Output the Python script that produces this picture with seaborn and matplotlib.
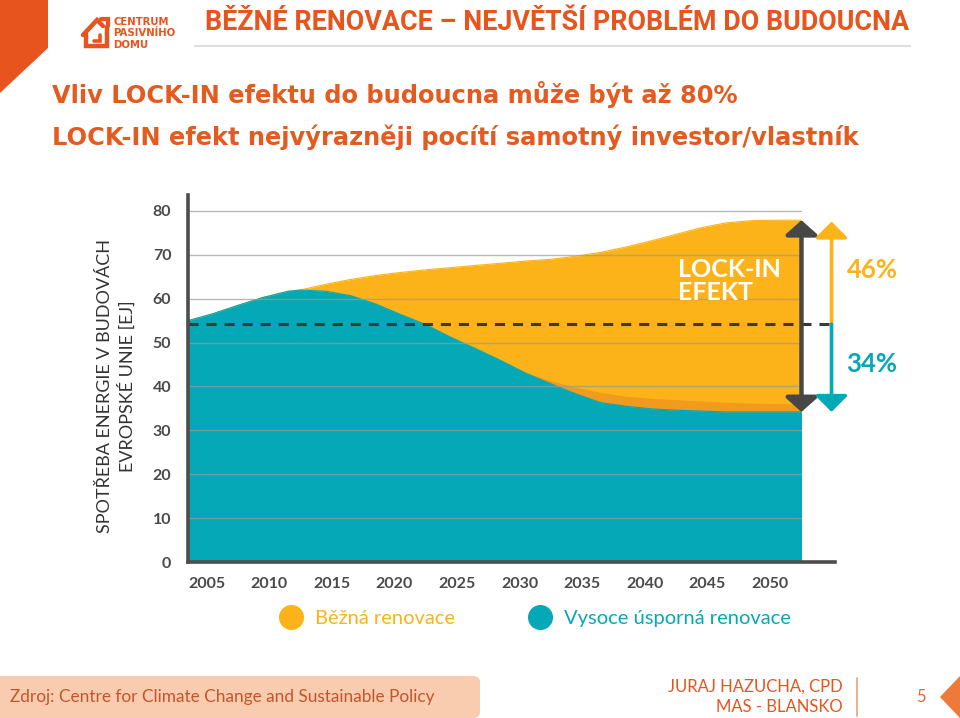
import numpy as np
import pandas as pd
import matplotlib
matplotlib.use("Agg")
import matplotlib.pyplot as plt
import seaborn as sns
from matplotlib.patches import Polygon, FancyBboxPatch, FancyArrowPatch
from matplotlib.lines import Line2D
from matplotlib.ticker import MultipleLocator, FixedLocator

# ---------------- data ----------------
years = [2005, 2007, 2009, 2011, 2013, 2014, 2016, 2018, 2020, 2022, 2024, 2026,
         2028, 2030, 2032, 2034, 2036, 2038, 2040, 2042, 2044, 2046, 2048, 2050,
         2052, 2054]
bezna_renovace = [55.0, 56.6, 58.5, 60.3, 61.7, 62.0, 63.3, 64.4, 65.3, 66.0, 66.6, 67.1,
                  67.6, 68.1, 68.6, 69.0, 69.7, 70.6, 71.8, 73.2, 74.7, 76.2, 77.3, 77.8,
                  77.9, 77.9]
usporna_renovace = [55.0, 56.6, 58.5, 60.3, 61.7, 62.0, 61.7, 60.7, 58.8, 56.4, 54.1, 51.2,
                    48.6, 45.9, 43.0, 40.6, 38.3, 36.3, 35.5, 34.9, 34.6, 34.4, 34.2, 34.2,
                    34.2, 34.2]
# darker orange band sitting just above the teal area
stin_pasu = [55.0, 56.6, 58.5, 60.3, 61.7, 62.0, 61.7, 60.7, 58.8, 56.4, 54.1, 51.2,
             48.6, 45.9, 43.1, 41.3, 39.8, 38.6, 37.8, 37.3, 37.0, 36.7, 36.4, 36.2,
             36.1, 36.0]
series_labels = ["Běžná renovace", "Vysoce úsporná renovace"]
x_ticks = [2005, 2010, 2015, 2020, 2025, 2030, 2035, 2040, 2045, 2050]
y_ticks = [0, 10, 20, 30, 40, 50, 60, 70, 80]
lockin_level = 54.2
pct_labels = ["46%", "34%"]

# ---------------- style ----------------
ORANGE = "#FBB319"
ORANGE_DARK = "#F09A1E"
TEAL = "#05A8B7"
RED = "#E8541E"
TITLE_RED = "#E55A1E"
GRAY = "#4a4a4a"

sns.set_theme(style="white")
plt.rcParams["font.family"] = ["Lato", "DejaVu Sans"]

W, H = 960, 718
fig = plt.figure(figsize=(W / 100, H / 100), dpi=100)


def fx(px):
    return px / W


def fy(py):
    return 1 - py / H


ax = fig.add_axes([fx(188), fy(562), (835 - 188) / W, (562 - 195) / H])
px_per_year = 62.6 / 5
px_per_unit = 351 / 80
ax.set_xlim(2005, 2005 + (835 - 188) / px_per_year)
ax.set_ylim(0, (562 - 195) / px_per_unit)

df = pd.DataFrame({"rok": years, series_labels[0]: bezna_renovace,
                   series_labels[1]: usporna_renovace, "stin": stin_pasu})

ax.fill_between(df["rok"], 0, df[series_labels[0]], color=ORANGE, lw=0, zorder=1)
ax.fill_between(df["rok"], 0, df["stin"], color=ORANGE_DARK, lw=0, zorder=1.5)
ax.fill_between(df["rok"], 0, df[series_labels[1]], color=TEAL, lw=0, zorder=2)
sns.lineplot(data=df, x="rok", y=series_labels[0], ax=ax, color=ORANGE, lw=0.8, zorder=1.2)
sns.lineplot(data=df, x="rok", y=series_labels[1], ax=ax, color=TEAL, lw=0.8, zorder=2.2)

# grid lines (stop at the end of the data)
for yv in y_ticks[1:]:
    ax.plot([years[0], years[-1]], [yv, yv], color="#9a9a9a", lw=1.0, alpha=0.7, zorder=3)

# dashed lock-in level
ax.plot([years[0], 2056.7], [lockin_level, lockin_level], color="#3a3a3a", lw=2.2,
        dashes=(3.3, 2.6), zorder=4, clip_on=False)

# axes styling
for s in ["top", "right"]:
    ax.spines[s].set_visible(False)
for s in ["left", "bottom"]:
    ax.spines[s].set_color("#4d4d4d")
    ax.spines[s].set_linewidth(2.6)
    ax.spines[s].set_zorder(6)
ax.xaxis.set_major_locator(FixedLocator(x_ticks))
ax.xaxis.set_minor_locator(MultipleLocator(1))
ax.set_yticks(y_ticks)
ax.set_xticks(x_ticks)
ax.set_xticklabels([str(x) for x in x_ticks], ha="left")
ax.tick_params(axis="x", which="major", direction="out", length=7, width=2.4,
               color="#4d4d4d", labelsize=11.5, labelcolor=GRAY, pad=4)
ax.tick_params(axis="x", which="minor", direction="out", length=3, width=1, color="#4d4d4d")
ax.tick_params(axis="y", length=0, labelsize=11.5, labelcolor=GRAY, pad=12)
for lab in ax.get_xticklabels() + ax.get_yticklabels():
    lab.set_fontweight("bold")
ax.set_xlabel("")
ax.set_ylabel("")
ax.grid(False)

# arrows
a1 = FancyArrowPatch((2054.0, 34.2), (2054.0, 77.9), arrowstyle="<|-|>,head_width=0.45,head_length=0.4",
                     mutation_scale=22, color="#474747", lw=3.2, shrinkA=0, shrinkB=0,
                     zorder=7, clip_on=False)
ax.add_patch(a1)
a2 = FancyArrowPatch((2056.4, lockin_level), (2056.4, 77.6), arrowstyle="-|>,head_width=0.45,head_length=0.45",
                     mutation_scale=22, color=ORANGE, lw=2.6, shrinkA=0, shrinkB=0,
                     zorder=7, clip_on=False)
ax.add_patch(a2)
a3 = FancyArrowPatch((2056.4, lockin_level), (2056.4, 34.2), arrowstyle="-|>,head_width=0.45,head_length=0.45",
                     mutation_scale=22, color=TEAL, lw=2.6, shrinkA=0, shrinkB=0,
                     zorder=7, clip_on=False)
ax.add_patch(a3)

ax.text(2044.1, 69.4, "LOCK-IN\nEFEKT", color="white", fontsize=18, fontweight="bold",
        ha="left", va="top", linespacing=1.05, zorder=8)
fig.text(fx(872), fy(270), pct_labels[0], color=ORANGE, fontsize=18.5, fontweight="bold",
         ha="center", va="center")
fig.text(fx(872), fy(364), pct_labels[1], color=TEAL, fontsize=18.5, fontweight="bold",
         ha="center", va="center")

# y label
fig.text(fx(116), fy(386), "SPOTŘEBA ENERGIE V BUDOVÁCH\nEVROPSKÉ UNIE [EJ]", rotation=90,
         ha="center", va="center", multialignment="center", fontsize=13, color="#333333",
         linespacing=1.3)

# legend
handles = [Line2D([0], [0], marker="o", ls="none", markersize=17, markerfacecolor=ORANGE,
                  markeredgecolor=ORANGE),
           Line2D([0], [0], marker="o", ls="none", markersize=17, markerfacecolor=TEAL,
                  markeredgecolor=TEAL)]
leg = fig.legend(handles, series_labels, loc="center", bbox_to_anchor=(fx(531), fy(618)),
                 ncol=2, frameon=False, fontsize=14.5, handletextpad=0.2, columnspacing=3.2,
                 labelcolor=[ORANGE, TEAL])

# ---------------- slide decoration ----------------
fig.patches.append(Polygon([[fx(0), fy(0)], [fx(48), fy(0)], [fx(48), fy(48)], [fx(0), fy(93)]],
                           closed=True, transform=fig.transFigure, color=RED, lw=0))
# logo house
house = [(86, 34), (86, 46), (107, 46), (107, 27)]
fig.lines.append(Line2D([fx(p[0]) for p in house], [fy(p[1]) for p in house],
                        transform=fig.transFigure, color=RED, lw=3.2, solid_joinstyle="miter"))
roof = [(83, 35), (97, 20), (103, 26)]
fig.lines.append(Line2D([fx(p[0]) for p in roof], [fy(p[1]) for p in roof],
                        transform=fig.transFigure, color=RED, lw=3.2, solid_joinstyle="miter"))
flag = [(101, 19), (108, 19), (108, 26)]
fig.lines.append(Line2D([fx(p[0]) for p in flag], [fy(p[1]) for p in flag],
                        transform=fig.transFigure, color=RED, lw=3.0, solid_joinstyle="miter"))
inner = [(94, 41), (100, 41), (100, 35)]
fig.lines.append(Line2D([fx(p[0]) for p in inner], [fy(p[1]) for p in inner],
                        transform=fig.transFigure, color=RED, lw=2.6, solid_joinstyle="miter"))
for i, t in enumerate(["CENTRUM", "PASIVNÍHO", "DOMU"]):
    fig.text(fx(113), fy(22 + i * 11.5), t, color=RED, fontsize=7.3, fontweight="bold",
             ha="left", va="center", family=["DejaVu Sans"])

fig.text(fx(205), fy(22), "BĚŽNÉ RENOVACE – NEJVĚTŠÍ PROBLÉM DO BUDOUCNA", color=RED,
         fontsize=19.4, fontweight="bold", ha="left", va="center", family=["Roboto", "DejaVu Sans"])
fig.lines.append(Line2D([fx(195), fx(910)], [fy(46), fy(46)], transform=fig.transFigure,
                        color="#dedede", lw=1.5))

fig.text(fx(52), fy(95), "Vliv LOCK-IN efektu do budoucna může být až 80%", color=TITLE_RED,
         fontsize=17.4, fontweight="bold", ha="left", va="center", family=["DejaVu Sans"])
fig.text(fx(52), fy(137), "LOCK-IN efekt nejvýrazněji pocítí samotný investor/vlastník",
         color=TITLE_RED, fontsize=17.4, fontweight="bold", ha="left", va="center",
         family=["DejaVu Sans"])

# footer
fig.patches.append(FancyBboxPatch((fx(-20), fy(718)), fx(500), (718 - 676) / H,
                                  boxstyle="round,pad=0,rounding_size=0.008",
                                  transform=fig.transFigure, color="#F9CCAF", lw=0))
fig.text(fx(10), fy(697), "Zdroj: Centre for Climate Change and Sustainable Policy",
         color="#C4552B", fontsize=12.4, ha="left", va="center")
fig.text(fx(843), fy(687), "JURAJ HAZUCHA, CPD", color=RED, fontsize=12, ha="right", va="center")
fig.text(fx(843), fy(707), "MAS - BLANSKO", color=RED, fontsize=12, ha="right", va="center")
fig.lines.append(Line2D([fx(857), fx(857)], [fy(678), fy(716)], transform=fig.transFigure,
                        color="#E9A27A", lw=1.2))
fig.text(fx(921), fy(697), "5", color="#D0703A", fontsize=12, ha="center", va="center")
fig.patches.append(Polygon([[fx(960), fy(676)], [fx(940), fy(697)], [fx(960), fy(718)]],
                           closed=True, transform=fig.transFigure, color="#EE7A3A", lw=0))

fig.savefig("out.png", dpi=100)
